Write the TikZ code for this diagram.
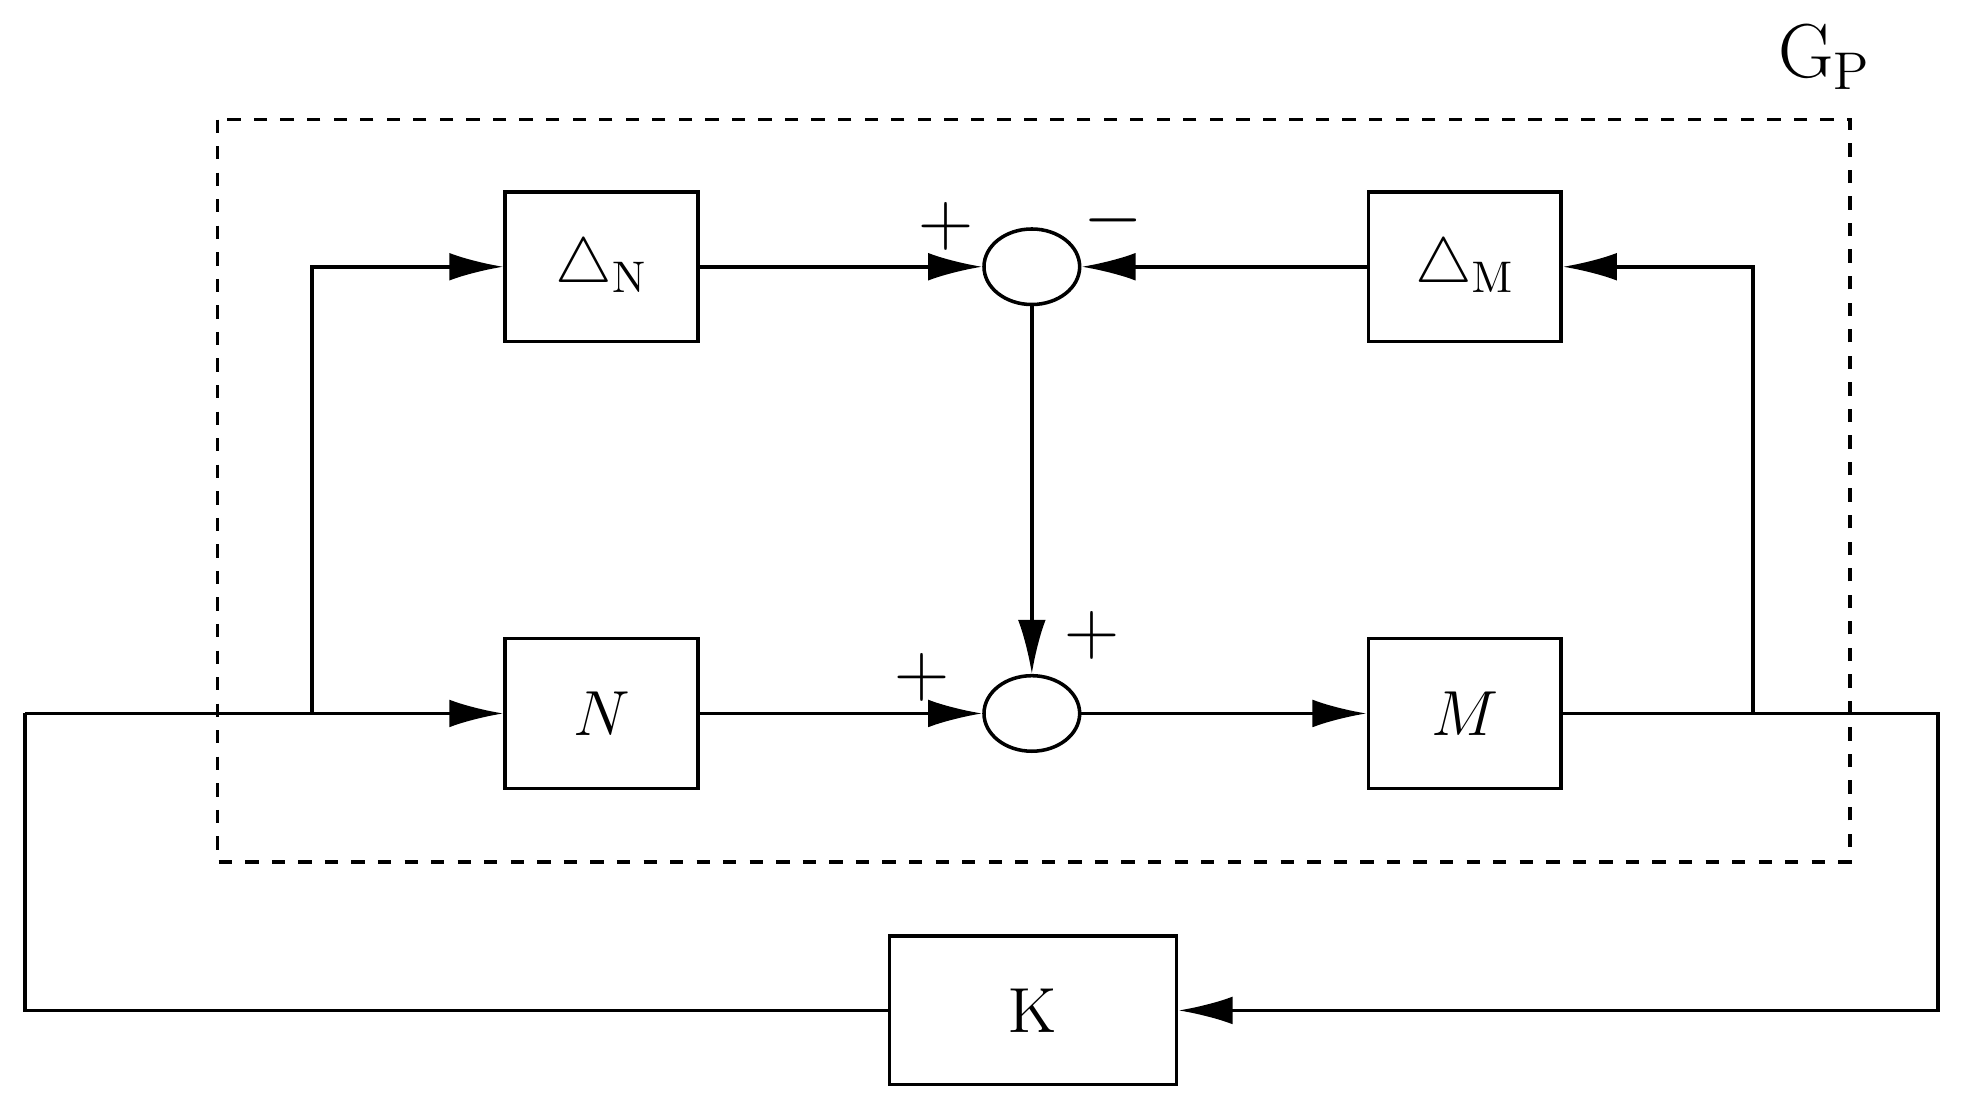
\documentclass[tikz,border=0pt]{standalone}
\usetikzlibrary{arrows.meta,shapes.geometric}
\begin{document}
\begin{tikzpicture}[x=0.01cm, y=-0.01cm,
    blk/.style={draw, thick, minimum width=1.53cm, minimum height=1.19cm, font=\Large},
    sum/.style={draw, thick, ellipse, minimum width=0.76cm, minimum height=0.6cm},
    sig/.style={font=\LARGE},
    arr/.style={thick, -{Latex[length=4.3mm, width=2.2mm]}}]
    \useasboundingbox (0,0) rectangle (1560,877);

    \draw [thick, dashed] (173,95) rectangle (1470,685);
    \node at (1450,45) {\LARGE G$_{\mathrm{P}}$};

    \node [blk] (dn) at (478,212) {$\bigtriangleup_{\mathrm{N}}$};
    \node [blk] (dm) at (1164,212) {$\bigtriangleup_{\mathrm{M}}$};
    \node [blk] (n) at (478,567) {$N$};
    \node [blk] (m) at (1164,567) {$M$};
    \node [blk, minimum width=2.28cm, minimum height=1.18cm] (k) at (821,803) {K};
    \node [sum] (s1) at (820,212) {};
    \node [sum] (s2) at (820,567) {};

    \coordinate (in) at (20,567);
    \coordinate (br) at (248,567);
    \coordinate (bm) at (1393,567);

    \node [sig] at (752,180) {$+$};
    \node [sig] at (885,175) {$-$};
    \node [sig] at (733,538) {$+$};
    \node [sig] at (868,505) {$+$};

    \draw [arr] (in) -- (n);
    \draw [arr] (br) |- (dn);
    \draw [arr] (dn) -- (s1);
    \draw [arr] (dm) -- (s1);
    \draw [arr] (s1) -- (s2);
    \draw [arr] (n) -- (s2);
    \draw [arr] (s2) -- (m);
    \draw [arr] (bm) |- (dm);
    \draw [arr] (m) -- (1540,567) |- (k);
    \draw [thick] (k) -| (in);
\end{tikzpicture}
\end{document}
